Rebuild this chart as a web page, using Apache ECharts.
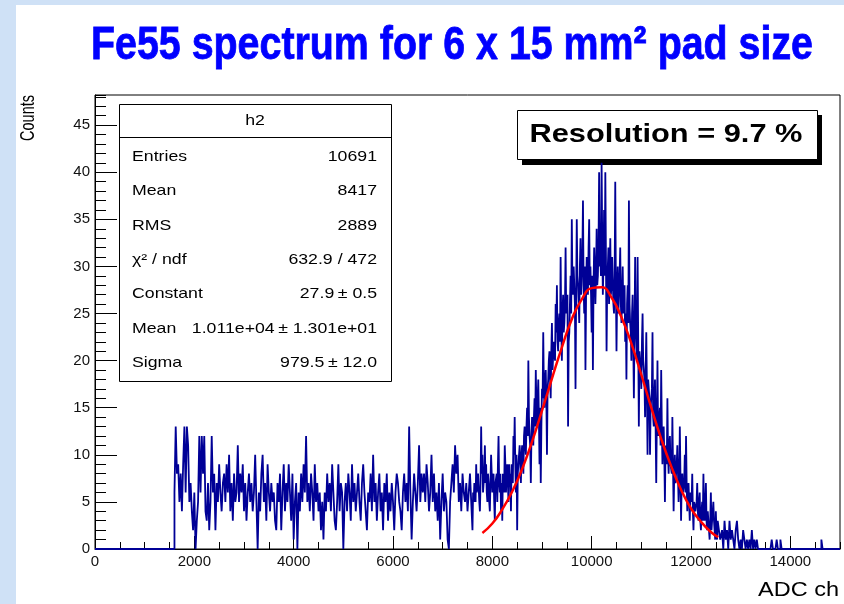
<!DOCTYPE html>
<html><head><meta charset="utf-8">
<script src="https://cdn.jsdelivr.net/npm/echarts@6/dist/echarts.min.js"></script>
<style>
html,body{margin:0;padding:0;background:#cfe1f6;width:844px;height:604px;overflow:hidden;}
#paper{position:absolute;left:16px;top:5px;width:828px;height:599px;background:#fff;}
#c{position:absolute;left:0;top:0;width:844px;height:604px;}
</style>
</head><body><div id="paper"></div><div id="c"></div>
<script>
// ---- histogram "h2": counts per ADC bin ----
// each segment starts at segStarts[k] and uses bins of segBinWidths[k] ADC units
const segStarts    = [1600, 2600, 3600, 4600, 5600, 6600, 7600, 8600, 9600, 10600, 11600, 12600, 13600, 14600];
const segBinWidths = [25, 25, 25, 25, 25, 25, 12.5, 12.5, 12.5, 12.5, 12.5, 25, 25, 25];
const seg1600  = [6,13,8,9,5,8,4,9,13,6, 13,11,5,7,4,2,6,0,3,5, 12,6,12,8,12,4,3,7,2,5, 12,6,8,2,7,5,9,6,4,7];
const seg2600  = [8,5,9,6,10,4,7,3,8,5, 6,11,5,8,6,9,4,7,3,6, 8,5,7,4,6,10,5,0,6,4, 8,10,5,7,3,9,6,4,7,5];
const seg3600  = [6,3,2,7,5,8,2,6,9,4, 7,5,9,6,3,8,1,5,7,0, 6,4,8,5,9,6,12,5,7,4, 8,6,3,9,5,7,4,6,2,5];
const seg4600  = [1,6,4,8,5,7,4,9,6,3, 2,5,9,4,7,6,0,5,7,4, 8,6,3,9,5,7,4,6,8,5, 3,7,9,6,4,2,6,5,8,4];
const seg5600  = [10,5,7,3,6,8,4,6,2,7, 5,8,3,6,4,7,5,2,6,8, 7,5,4,2,6,8,5,7,4,13, 6,1,5,8,6,4,7,11,5,8];
const seg6600  = [6,8,5,9,7,4,6,10,5,8, 4,6,3,7,1,5,8,4,6,5, 1,0,5,7,9,6,11,8,10,5, 7,4,8,6,5,7,4,6,8,5];
const seg7600  = [2,6,5,7,7,5,9,6,6,8,8,5,4,7,13,8,10,6,6,8,
                  11,7,9,6,5,8,7,5,4,7,10,8,6,7,8,5,3,7,7,8,
                  5,9,12,7,6,8,4,7,3,8,8,6,11,9,6,8,9,7,5,9,
                  7,8,4,9,8,7,12,10,14,9,6,10,2,8,9,10,11,9,7,10];
const seg8600  = [11,10,8,12,13,11,10,13,15,12,20,14,12,11,7,12,14,13,11,14,
                  16,13,19,15,13,16,18,14,9,15,7,13,17,16,23,17,15,18,19,16,
                  10,17,18,20,21,18,16,21,24,19,19,22,22,20,26,23,28,22,21,24,
                  25,22,31,24,20,25,27,23,24,26,32,25,26,27,13,22,23,26,29,25];
const seg9600  = [35,28,27,30,30,26,17,27,35,29,28,26,24,30,33,27,29,31,37,28,
                  25,30,19,27,31,29,27,32,35,28,30,27,23,29,19,28,32,30,26,29,
                  34,28,29,32,40,30,31,29,41,33,27,30,36,29,40,31,21,28,30,32,
                  26,29,33,27,28,31,31,26,25,29,39,28,21,27,30,25,27,29,32,26];
const seg10600 = [24,27,30,25,26,28,22,25,18,26,28,24,37,26,24,23,20,25,27,22,
                  16,23,31,24,22,20,31,22,13,21,21,19,17,22,25,20,19,18,14,19,
                  23,17,10,18,17,16,10,15,15,17,23,14,13,16,18,13,7,14,20,12,
                  12,14,15,11,19,13,9,12,13,10,5,11,11,9,16,10,8,11,12,9];
const seg11600 = [9,8,14,9,4,8,10,7,7,9,11,8,5,7,13,8,3,7,8,6,
                  6,7,10,6,12,7,4,6,7,5,3,6,6,5,8,4,2,5,5,4,
                  4,5,7,4,3,5,6,3,2,4,5,3,8,4,3,5,7,3,2,4,
                  4,2,1,3,6,2,3,4,5,3,2,1,4,2,1,3,3,2,2,1];
const seg12600 = [1,2,0,3,1,2,0,3,1,2, 1,0,2,3,1,0,1,0,2,1, 0,1,0,1,0,2,0,1,0,1, 0,0,0,0,0,0,0,0,0,0];
const seg13600 = [0,1,0,0,0,1,0,0,1,0, 0,0,0,0,0,0,0,0,0,0, 0,0,0,0,0,0,0,0,0,0, 0,0,0,0,0,0,0,0,0,0];
const seg14600 = [0,1,0,0,0,0,0,0, 0,0,0,0,0,0,0,0];
const segments = [seg1600, seg2600, seg3600, seg4600, seg5600, seg6600, seg7600, seg8600, seg9600, seg10600, seg11600, seg12600, seg13600, seg14600];

// ---- red Gaussian fit curve ----
const fitX = [7800, 8000, 8200, 8400, 8600, 8800, 9000, 9200, 9400, 9600, 9800, 10000, 10200, 10400, 10600, 10800, 11000, 11200, 11400, 11600, 11800, 12000, 12200, 12400, 12550];
const fitY = [1.7, 2.7, 4.2, 6.1, 8.5, 11.4, 14.7, 18.1, 21.4, 24.4, 26.5, 27.7, 27.8, 26.7, 24.6, 21.8, 18.5, 15.0, 11.7, 8.8, 6.3, 4.3, 2.9, 1.8, 1.25];

// ---- texts ----
const titleText = 'Fe55 spectrum for 6 x 15 mm\u00b2 pad size';
const xTitle = 'ADC ch';
const yTitle = 'Counts';
const statsTitle = 'h2';
const statNames  = ['Entries', 'Mean', 'RMS', '\u03c7\u00b2 / ndf', 'Constant', 'Mean', 'Sigma'];
const statValues = ['10691', '8417', '2889', '632.9 / 472', '27.9\u2009\u00b1 0.5', '1.011e+04\u2009\u00b1 1.301e+01', '979.5\u2009\u00b1 12.0'];
const resolutionText = 'Resolution = 9.7 %';

// ---- build series data ----
const hist = [[0, 0]];
segments.forEach((s, k) => s.forEach((v, i) => hist.push([segStarts[k] + i * segBinWidths[k], v])));
hist.push([15000, 0]);
const fitData = fitX.map((x, i) => [x, fitY[i]]);

const mctx = document.createElement('canvas').getContext('2d');
function fitScale(text, font, target) { mctx.font = font; return target / mctx.measureText(text).width; }

const SF = 'Liberation Sans';
const statScale = 1.18;
const graphics = [];

// title
graphics.push({
  type: 'text', x: 452, y: 46, z: 50,
  scaleX: fitScale(titleText, 'bold 47px "' + SF + '"', 722),
  style: { text: titleText, fill: '#0000ff', stroke: '#0000ff', lineWidth: 0.8, fontSize: 47, fontWeight: 'bold', fontFamily: SF,
           align: 'center', textAlign: 'center', verticalAlign: 'middle', textVerticalAlign: 'middle' }
});
// y title
graphics.push({
  type: 'text', x: 28, y: 95, rotation: Math.PI / 2, scaleY: 1.45, z: 50,
  style: { text: yTitle, fill: '#000', fontSize: 14.5, fontFamily: SF,
           align: 'right', textAlign: 'right', verticalAlign: 'middle', textVerticalAlign: 'middle' }
});
// x title
graphics.push({
  type: 'text', x: 839, y: 590, z: 50,
  scaleX: fitScale(xTitle, '20px "' + SF + '"', 81),
  style: { text: xTitle, fill: '#000', fontSize: 20, fontFamily: SF,
           align: 'right', textAlign: 'right', verticalAlign: 'middle', textVerticalAlign: 'middle' }
});
// stats box
const statChildren = [
  { type: 'rect', shape: { x: 119.5, y: 104.5, width: 272, height: 277 }, style: { fill: '#fff', stroke: '#000', lineWidth: 1 } },
  { type: 'line', shape: { x1: 119.5, y1: 137.5, x2: 391.5, y2: 137.5 }, style: { stroke: '#000', lineWidth: 1 } },
  { type: 'text', x: 255, y: 121, scaleX: statScale,
    style: { text: statsTitle, fill: '#000', fontSize: 15, fontFamily: SF, align: 'center', textAlign: 'center', verticalAlign: 'middle', textVerticalAlign: 'middle' } }
];
statNames.forEach((n, i) => {
  const y = 157 + i * 34.3;
  statChildren.push({ type: 'text', x: 132, y: y, scaleX: statScale,
    style: { text: n, fill: '#000', fontSize: 15, fontFamily: SF, align: 'left', textAlign: 'left', verticalAlign: 'middle', textVerticalAlign: 'middle' } });
  statChildren.push({ type: 'text', x: 377, y: y, scaleX: statScale,
    style: { text: statValues[i], fill: '#000', fontSize: 15, fontFamily: SF, align: 'right', textAlign: 'right', verticalAlign: 'middle', textVerticalAlign: 'middle' } });
});
graphics.push({ type: 'group', z: 40, children: statChildren });
// resolution box
graphics.push({ type: 'group', z: 40, children: [
  { type: 'rect', shape: { x: 522, y: 115, width: 300, height: 50 }, style: { fill: '#000' } },
  { type: 'rect', shape: { x: 517.5, y: 110.5, width: 300, height: 49 }, style: { fill: '#fff', stroke: '#000', lineWidth: 1 } },
  { type: 'text', x: 666, y: 135, scaleX: fitScale(resolutionText, 'bold 26px "' + SF + '"', 273),
    style: { text: resolutionText, fill: '#000', fontSize: 26, fontWeight: 'bold', fontFamily: SF, align: 'center', textAlign: 'center', verticalAlign: 'middle', textVerticalAlign: 'middle' } }
]});

const chart = echarts.init(document.getElementById('c'), null, { renderer: 'canvas' });
const lbl = { color: '#111', fontSize: 15, fontFamily: SF, formatter: v => String(v) };
chart.setOption({
  animation: false,
  backgroundColor: 'transparent',
  grid: { left: 95, right: 4, top: 95, bottom: 55, show: true, borderColor: '#000', borderWidth: 1, backgroundColor: '#fff' },
  xAxis: [
    { type: 'value', min: 0, max: 15000, interval: 2000, position: 'bottom',
      axisLine: { show: true, onZero: false, lineStyle: { color: '#000', width: 1 } },
      axisTick: { show: true, inside: true, length: 13, lineStyle: { color: '#000' } },
      axisLabel: Object.assign({ margin: 5, showMaxLabel: false, showMinLabel: true }, lbl),
      splitLine: { show: false } },
    { type: 'value', min: 0, max: 15000, interval: 500, position: 'bottom',
      axisLine: { show: false, onZero: false },
      axisTick: { show: true, inside: true, length: 7, lineStyle: { color: '#000' } },
      axisLabel: { show: false }, splitLine: { show: false } }
  ],
  yAxis: [
    { type: 'value', min: 0, max: 48.2, interval: 5, position: 'left',
      axisLine: { show: true, onZero: false, lineStyle: { color: '#000', width: 1 } },
      axisTick: { show: true, inside: true, length: 22, lineStyle: { color: '#000' } },
      axisLabel: Object.assign({ margin: 5, showMaxLabel: false, showMinLabel: true }, lbl),
      splitLine: { show: false } },
    { type: 'value', min: 0, max: 48.2, interval: 1, position: 'left',
      axisLine: { show: false, onZero: false },
      axisTick: { show: true, inside: true, length: 11, lineStyle: { color: '#000' } },
      axisLabel: { show: false }, splitLine: { show: false } }
  ],
  series: [
    { type: 'line', xAxisIndex: 0, yAxisIndex: 0, data: hist, step: 'end', symbol: 'none', showSymbol: false,
      lineStyle: { color: '#000096', width: 1.8 }, silent: true, z: 2 },
    { type: 'line', xAxisIndex: 0, yAxisIndex: 0, data: fitData, smooth: true, symbol: 'none', showSymbol: false,
      lineStyle: { color: '#ff0000', width: 2.5 }, silent: true, z: 3 }
  ],
  graphic: graphics
});
</script>
</body></html>
